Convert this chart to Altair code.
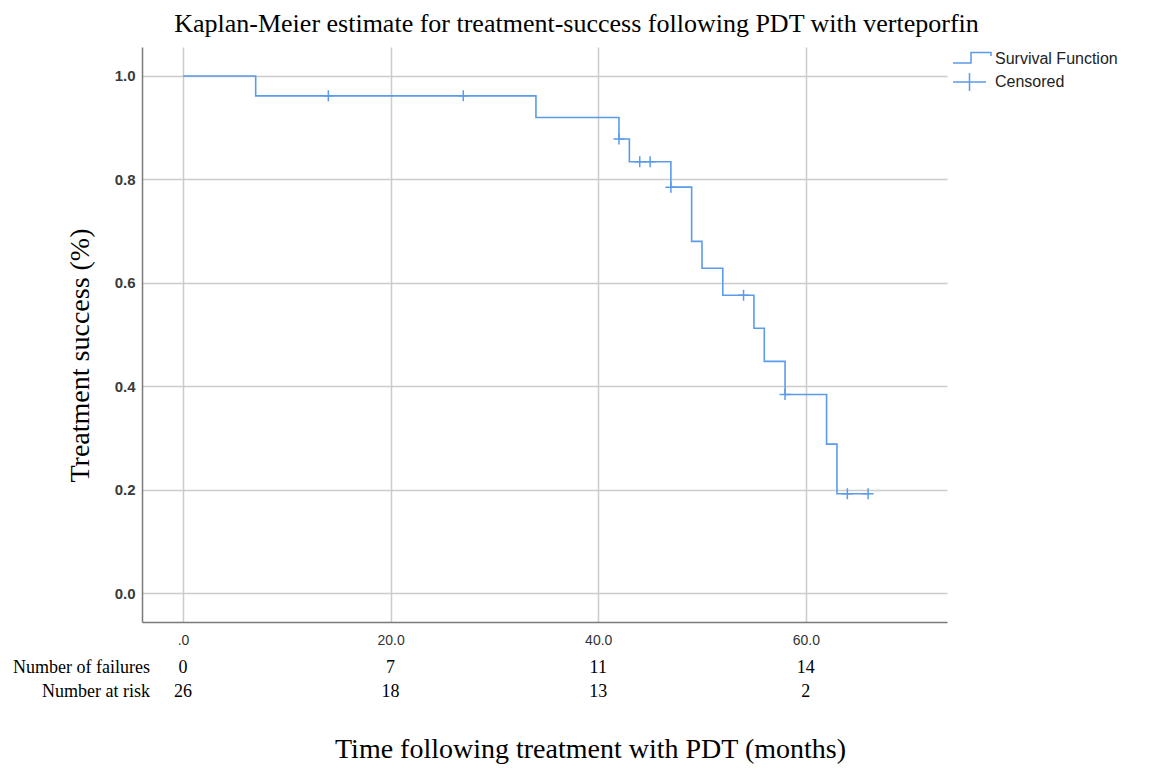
import altair as alt
import pandas as pd

# Kaplan-Meier step curve (time in months, survival proportion)
step_time = [0, 7, 34, 42, 43, 47, 49, 50, 52, 55, 56, 58, 62, 63, 66]
step_surv = [1.0, 0.9615, 0.9197, 0.878, 0.834, 0.785, 0.680, 0.628, 0.576, 0.512, 0.448, 0.384, 0.288, 0.192, 0.192]

# Censored observations
cens_time = [14, 27, 42, 44, 45, 47, 54, 58, 64, 66]
cens_surv = [0.9615, 0.9615, 0.878, 0.834, 0.834, 0.785, 0.576, 0.384, 0.192, 0.192]

# Risk table
risk_time = [0, 20, 40, 60]
n_failures = ["0", "7", "11", "14"]
n_at_risk = ["26", "18", "13", "2"]

BLUE = "#5b9bea"
W, H = 805, 575
SERIF = "Liberation Serif"
PLUS = "M-1,0H1M0,-1V1"

xscale = alt.Scale(domain=[-3.95, 73.6], nice=False, zero=False)
yscale = alt.Scale(domain=[-0.056, 1.056], nice=False, zero=False)

line_df = pd.DataFrame({"t": step_time, "s": step_surv, "series": "Survival Function"})
cens_df = pd.DataFrame({"t": cens_time, "s": cens_surv, "series": "Censored"})
risk_df = pd.DataFrame({"t": risk_time, "fail": n_failures, "risk": n_at_risk})
rowlab_df = pd.DataFrame({"lab": ["Number of failures", "Number at risk"], "row": [0, 1]})

leg_common = dict(
    title=None,
    orient="none",
    legendX=819,
    padding=0,
    symbolSize=400,
    symbolStrokeWidth=1.5,
    symbolStrokeColor=BLUE,
    symbolFillColor="transparent",
    labelFont="Liberation Sans",
    labelFontSize=16,
    labelColor="#222222",
    labelOffset=12,
)

color = alt.Color(
    "series:N",
    scale=alt.Scale(domain=["Survival Function"], range=[BLUE]),
    legend=alt.Legend(
        legendY=1,
        symbolType="M-1.9,0.4H-0.1V-0.65H1.9V-0.3",
        **leg_common,
    ),
)

shape = alt.Shape(
    "series:N",
    scale=alt.Scale(domain=["Censored"], range=["M-1.9,0H1.4M-0.25,-0.9V0.9"]),
    legend=alt.Legend(legendY=24, **leg_common),
)

xaxis = alt.Axis(
    values=[0, 20, 40, 60],
    labelExpr="datum.value == 0 ? '.0' : format(datum.value, '.1f')",
    grid=True,
    gridColor="#cccccc",
    gridWidth=1.5,
    ticks=False,
    domainColor="#7a7a7a",
    domainWidth=1.5,
    labelFont="Liberation Sans Narrow, Liberation Sans",
    labelFontSize=14,
    labelColor="#333333",
    labelPadding=11,
    title="Time following treatment with PDT (months)",
    titleFont=SERIF,
    titleFontSize=28,
    titleFontWeight="normal",
    titleColor="#000000",
    titleX=448,
    titleY=127,
    titleBaseline="middle",
    titleAlign="center",
)

yaxis = alt.Axis(
    values=[0, 0.2, 0.4, 0.6, 0.8, 1.0],
    format=".1f",
    grid=True,
    gridColor="#cccccc",
    gridWidth=1.5,
    ticks=False,
    domainColor="#7a7a7a",
    domainWidth=1.5,
    labelFont="Liberation Sans",
    labelFontSize=15,
    labelFontWeight="bold",
    labelColor="#3a3a3a",
    labelPadding=7,
    title="Treatment success (%)",
    titleFont=SERIF,
    titleFontSize=28,
    titleFontWeight="normal",
    titleColor="#000000",
    titleAngle=270,
    titleX=-62,
    titleY=308,
    titleAlign="center",
    titleBaseline="middle",
)

line = alt.Chart(line_df).mark_line(interpolate="step-after", strokeWidth=1.6).encode(
    x=alt.X("t:Q", scale=xscale, axis=xaxis),
    y=alt.Y("s:Q", scale=yscale, axis=yaxis),
    color=color,
    order="t:Q",
)

cens = alt.Chart(cens_df).mark_point(
    size=121, filled=False, strokeWidth=1.5, opacity=1, color=BLUE
).encode(
    x=alt.X("t:Q", scale=xscale),
    y=alt.Y("s:Q", scale=yscale),
    shape=alt.Shape(
        "series:N",
        scale=alt.Scale(domain=["Censored"], range=[PLUS]),
        legend=None,
    ),
)

# invisible layer that only provides the "Censored" legend entry
cens_leg = alt.Chart(cens_df.head(1)).mark_point(
    size=121, filled=False, strokeWidth=1.5, opacity=0, color=BLUE
).encode(
    x=alt.X("t:Q", scale=xscale),
    y=alt.Y("s:Q", scale=yscale),
    shape=shape,
)

TXT = dict(font=SERIF, fontSize=18, color="#000000", baseline="middle")

fail_txt = alt.Chart(risk_df).mark_text(**TXT).encode(
    x=alt.X("t:Q", scale=xscale),
    y=alt.value(H + 46),
    text="fail:N",
)
risk_txt = alt.Chart(risk_df).mark_text(**TXT).encode(
    x=alt.X("t:Q", scale=xscale),
    y=alt.value(H + 70),
    text="risk:N",
)
row_fail = alt.Chart(rowlab_df).transform_filter("datum.row == 0").mark_text(
    align="right", **TXT
).encode(x=alt.value(8), y=alt.value(H + 46), text="lab:N")
row_risk = alt.Chart(rowlab_df).transform_filter("datum.row == 1").mark_text(
    align="right", **TXT
).encode(x=alt.value(8), y=alt.value(H + 70), text="lab:N")

chart = (
    alt.layer(line, cens, cens_leg, fail_txt, risk_txt, row_fail, row_risk)
    .resolve_scale(shape="independent")
    .properties(
        width=W,
        height=H,
        autosize=alt.AutoSizeParams(type="none"),
        padding={"left": 134, "top": 39, "right": 198, "bottom": 146},
        background="white",
        title=alt.TitleParams(
            "Kaplan-Meier estimate for treatment-success following PDT with verteporfin",
            font=SERIF,
            fontSize=26,
            fontWeight="normal",
            color="#000000",
            anchor="middle",
            dx=32,
            offset=10,
        ),
    )
    .configure_view(stroke=None)
)

chart.save("out.html", embed_options={"renderer": "svg", "actions": False})
